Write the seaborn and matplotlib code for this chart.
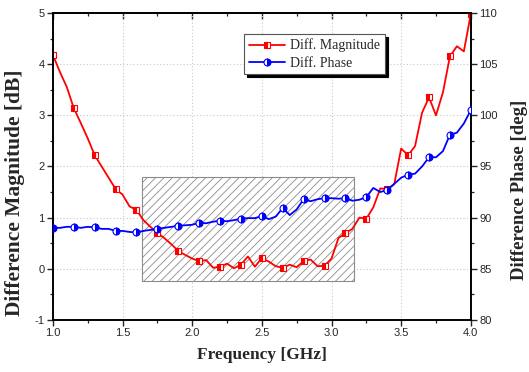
import numpy as np
import pandas as pd
import matplotlib
matplotlib.use("Agg")
import matplotlib.pyplot as plt
from matplotlib.patches import Rectangle
import seaborn as sns

# frequency grid (GHz)
freq = [1.00, 1.05, 1.10, 1.15, 1.20, 1.25, 1.30, 1.35, 1.40, 1.45,
        1.50, 1.55, 1.60, 1.65, 1.70, 1.75, 1.80, 1.85, 1.90, 1.95,
        2.00, 2.05, 2.10, 2.15, 2.20, 2.25, 2.30, 2.35, 2.40, 2.45,
        2.50, 2.55, 2.60, 2.65, 2.70, 2.75, 2.80, 2.85, 2.90, 2.95,
        3.00, 3.05, 3.10, 3.15, 3.20, 3.25, 3.30, 3.35, 3.40, 3.45,
        3.50, 3.55, 3.60, 3.65, 3.70, 3.75, 3.80, 3.85, 3.90, 3.95,
        4.00]

# difference magnitude [dB]
diff_mag = [4.18, 3.85, 3.55, 3.14, 2.85, 2.55, 2.22, 2.00, 1.78, 1.56,
            1.45, 1.22, 1.15, 0.95, 0.82, 0.70, 0.60, 0.48, 0.35, 0.27,
            0.20, 0.15, 0.17, 0.02, 0.04, 0.10, 0.01, 0.08, 0.24, 0.04,
            0.21, 0.14, 0.05, 0.02, 0.08, 0.03, 0.15, 0.18, 0.05, 0.06,
            0.20, 0.60, 0.70, 0.78, 1.00, 0.98, 1.20, 1.57, 1.56, 1.65,
            2.35, 2.22, 2.40, 3.05, 3.35, 3.00, 3.45, 4.15, 4.35, 4.25,
            4.98]

# difference phase [deg]
diff_phase = [89.0, 89.0, 89.1, 89.1, 89.0, 89.1, 89.05, 88.9, 88.9, 88.7,
              88.7, 88.6, 88.55, 88.7, 88.8, 88.9, 89.0, 89.1, 89.2, 89.25,
              89.3, 89.5, 89.45, 89.6, 89.7, 89.65, 89.75, 89.9, 89.95, 89.95,
              90.15, 89.85, 90.1, 90.95, 90.25, 90.8, 91.8, 91.6, 91.8, 91.9,
              91.9, 91.85, 91.9, 91.65, 91.75, 92.0, 92.9, 92.5, 92.7, 93.3,
              93.9, 94.2, 94.3, 95.0, 95.9, 95.9, 96.5, 98.1, 98.3, 99.2,
              100.5]

df = pd.DataFrame({"freq": freq, "mag": diff_mag, "phase": diff_phase})

sns.set_style("ticks")
plt.rcParams["font.family"] = ["Liberation Sans", "DejaVu Sans"]
plt.rcParams["axes.unicode_minus"] = False
plt.rcParams["hatch.color"] = "#9a9a9a"
plt.rcParams["hatch.linewidth"] = 0.6

fig = plt.figure(figsize=(5.29, 3.72), dpi=100)
ax = fig.add_axes([0.100, 0.140, 0.790, 0.825])
ax2 = ax.twinx()

# hatched band of interest
ax.add_patch(Rectangle((1.64, -0.23), 1.52, 2.02, facecolor="white",
                       edgecolor="#8c8c8c", hatch="////", lw=0.8, zorder=1))

sns.lineplot(data=df, x="freq", y="mag", ax=ax, color="red", lw=1.3,
             marker="s", markersize=5, markevery=3, fillstyle="left",
             markerfacecoloralt="white", markeredgecolor="red",
             markeredgewidth=0.8, label="Diff. Magnitude", legend=False,
             zorder=3)
sns.lineplot(data=df, x="freq", y="phase", ax=ax2, color="blue", lw=1.3,
             marker="o", markersize=5, markevery=3, fillstyle="right",
             markerfacecoloralt="white", markeredgecolor="blue",
             markeredgewidth=0.8, label="Diff. Phase", legend=False,
             zorder=3)

ax.set_xlim(1.0, 4.0)
ax.set_ylim(-1, 5)
ax2.set_ylim(80, 110)
ax.set_xticks(np.arange(1.0, 4.01, 0.5))
ax.set_xticks(np.arange(1.25, 4.0, 0.5), minor=True)
ax.set_yticks(np.arange(-1, 5.1, 1))
ax.set_yticks(np.arange(-0.5, 5, 1), minor=True)
ax2.set_yticks(np.arange(80, 111, 5))
ax2.set_yticks(np.arange(82.5, 110, 5), minor=True)

ax.grid(True, which="major", color="#c8c8c8", ls=(0, (1, 2)), lw=0.8)
ax.set_axisbelow(True)

for a in (ax, ax2):
    for s in a.spines.values():
        s.set_linewidth(1.2)
        s.set_color("black")
ax.tick_params(which="major", direction="out", length=4, width=1.0,
               labelsize=8, pad=2)
ax.tick_params(which="minor", direction="out", length=2.5, width=0.9)
ax2.tick_params(which="major", direction="out", length=4, width=1.0,
                labelsize=8, pad=2)
ax2.tick_params(which="minor", direction="out", length=2.5, width=0.9)

top = ax.secondary_xaxis("top")
top.set_xticks(np.arange(1.0, 4.01, 0.5))
top.set_xticks(np.arange(1.25, 4.0, 0.5), minor=True)
top.tick_params(which="major", direction="in", length=4, width=1.0,
                labeltop=False)
top.tick_params(which="minor", direction="in", length=2.5, width=0.9)
top.spines["top"].set_linewidth(1.2)

serif = ["Liberation Serif", "DejaVu Serif"]
ax.set_xlabel("Frequency [GHz]", labelpad=6, family=serif,
              fontweight="bold", fontsize=12.5)
ax.set_ylabel("Difference Magnitude [dB]", family=serif,
              fontweight="bold", fontsize=15.5)
ax2.set_ylabel("Difference Phase [deg]", family=serif,
               fontweight="bold", fontsize=13.5)
ax.yaxis.set_label_coords(-0.067, 0.414)
ax2.yaxis.set_label_coords(1.097, 0.423)

h1, l1 = ax.get_legend_handles_labels()
h2, l2 = ax2.get_legend_handles_labels()
leg = ax2.legend(h1 + h2, l1 + l2, loc="upper left",
                 bbox_to_anchor=(0.44, 0.955), fancybox=False,
                 shadow={"color": "black", "alpha": 1.0},
                 prop={"family": serif, "size": 10},
                 handlelength=2.6, borderpad=0.35, labelspacing=0.3,
                 handletextpad=0.4, framealpha=1.0, edgecolor="#555555")
leg.get_frame().set_linewidth(0.8)

fig.savefig("out.png", dpi=100)
